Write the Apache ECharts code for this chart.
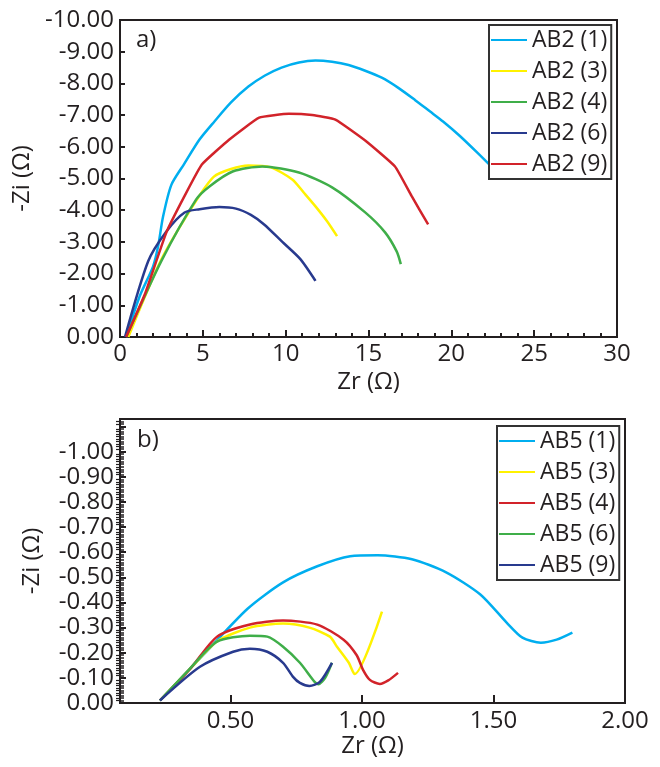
<!DOCTYPE html>
<html><head><meta charset="utf-8">
<script src="https://cdn.jsdelivr.net/npm/echarts@6/dist/echarts.min.js"></script>
<style>html,body{margin:0;padding:0;background:#fff}#c{width:660px;height:767px}</style>
</head><body><div id="c"></div><script>
// ---- Data (panel a: AB2) ----
const namesA = ['AB2 (1)', 'AB2 (3)', 'AB2 (4)', 'AB2 (6)', 'AB2 (9)'];
const ab2_1 = [[0.37,0],[1.2,1.3],[2.0,2.23],[2.3,2.86],[2.6,3.8],[3.1,4.8],[3.85,5.44],[4.8,6.23],[5.7,6.8],[6.7,7.4],[7.75,7.9],[8.75,8.25],[9.75,8.5],[10.8,8.66],[11.8,8.72],[12.8,8.68],[13.8,8.58],[14.8,8.4],[15.8,8.18],[16.8,7.86],[17.8,7.48],[18.7,7.12],[19.5,6.8],[20.5,6.35],[21.6,5.8],[22.6,5.28]];
const ab2_3 = [[0.5,0],[2.5,2.45],[4.6,4.3],[5.67,5.06],[6.7,5.3],[7.75,5.41],[9.1,5.35],[10.4,4.97],[11.1,4.55],[11.8,4.12],[12.5,3.65],[13.1,3.18]];
const ab2_4 = [[0.37,0],[2.5,2.4],[4.6,4.34],[5.4,4.75],[6.8,5.22],[8.6,5.38],[10.8,5.19],[12.8,4.72],[14.8,3.93],[16.0,3.3],[16.7,2.7],[16.95,2.3]];
const ab2_6 = [[0.3,0],[1.7,2.39],[2.8,3.33],[3.9,3.93],[4.8,4.03],[6.0,4.1],[7.0,4.05],[7.9,3.85],[8.7,3.55],[9.8,3.0],[10.9,2.45],[11.8,1.77]];
const ab2_9 = [[0.37,0],[1.5,1.35],[2.8,3.3],[3.9,4.45],[4.94,5.44],[6.6,6.23],[8.4,6.92],[10.2,7.04],[11.6,7.0],[13.0,6.86],[14.8,6.2],[16.6,5.38],[17.6,4.45],[18.6,3.55]];
// ---- Data (panel b: AB5) ----
const namesB = ['AB5 (1)', 'AB5 (3)', 'AB5 (4)', 'AB5 (6)', 'AB5 (9)'];
const ab5_1 = [[0.232,0.01],[0.40,0.195],[0.565,0.375],[0.70,0.48],[0.83,0.544],[0.955,0.584],[1.06,0.588],[1.19,0.572],[1.32,0.52],[1.45,0.432],[1.55,0.32],[1.61,0.26],[1.68,0.24],[1.74,0.252],[1.80,0.28]];
const ab5_3 = [[0.232,0.01],[0.35,0.14],[0.449,0.245],[0.574,0.30],[0.70,0.316],[0.80,0.30],[0.878,0.264],[0.905,0.224],[0.95,0.16],[0.972,0.115],[1.076,0.364]];
const ab5_4 = [[0.232,0.01],[0.35,0.14],[0.449,0.264],[0.574,0.312],[0.70,0.328],[0.83,0.312],[0.93,0.252],[0.98,0.19],[1.004,0.132],[1.03,0.092],[1.068,0.076],[1.10,0.09],[1.137,0.12]];
const ab5_6 = [[0.232,0.01],[0.34,0.13],[0.449,0.244],[0.574,0.268],[0.64,0.264],[0.70,0.224],[0.764,0.16],[0.82,0.084],[0.835,0.075],[0.86,0.1],[0.886,0.16]];
const ab5_9 = [[0.232,0.01],[0.384,0.144],[0.51,0.204],[0.574,0.216],[0.64,0.204],[0.70,0.16],[0.738,0.104],[0.764,0.08],[0.80,0.068],[0.84,0.084],[0.886,0.16]];
// ---- Tick labels ----
const xTicksA = [0, 5, 10, 15, 20, 25, 30];
const yTicksA = [0, 1, 2, 3, 4, 5, 6, 7, 8, 9, 10];
const xTicksB = [0.5, 1.0, 1.5, 2.0];
const yTicksB = [0, 0.1, 0.2, 0.3, 0.4, 0.5, 0.6, 0.7, 0.8, 0.9, 1.0];

const colA = ['#00aeef', '#fff200', '#3fae49', '#283a8e', '#d2232a'];
const colB = ['#00aeef', '#fff200', '#d2232a', '#3fae49', '#283a8e'];
const dataA = [ab2_1, ab2_3, ab2_4, ab2_6, ab2_9];
const dataB = [ab5_1, ab5_3, ab5_4, ab5_6, ab5_9];

const FONT = 'Open Sans';
const TXT = '#231f20';
const negFmt = v => (Math.abs(v) < 1e-9 ? '0.00' : '-' + v.toFixed(2));
const axLine = { show: true, lineStyle: { color: TXT, width: 2 } };

const series = [];
dataA.forEach((d, i) => series.push({
  name: namesA[i], type: 'line', xAxisIndex: 0, yAxisIndex: 0, data: d,
  symbol: 'none', smooth: i === 4 ? 0.12 : 0.25,
  lineStyle: { color: colA[i], width: 2.5 }, itemStyle: { color: colA[i] }
}));
dataB.forEach((d, i) => series.push({
  name: namesB[i], type: 'line', xAxisIndex: 1, yAxisIndex: 1, data: d,
  symbol: 'none', smooth: 0.25,
  lineStyle: { color: colB[i], width: 2.5 }, itemStyle: { color: colB[i] }
}));

const legendBase = {
  orient: 'vertical', itemWidth: 36, itemHeight: 14, itemGap: 3,
  padding: [1, 4, 1, 2], borderColor: '#333', borderWidth: 2, backgroundColor: '#fff',
  textStyle: { fontFamily: FONT, fontSize: 23, color: TXT, lineHeight: 28, padding: [0, 0, 0, 0] },
  icon: 'path://M0,6L36,6L36,8L0,8Z', itemStyle: { borderWidth: 0 }
};

const option = {
  animation: false,
  textStyle: { fontFamily: FONT },
  grid: [
    { left: 120, top: 20, width: 497, height: 317, show: true, borderColor: TXT, borderWidth: 2, backgroundColor: 'transparent' },
    { left: 120, top: 419, width: 505, height: 284, show: true, borderColor: TXT, borderWidth: 2, backgroundColor: 'transparent' }
  ],
  xAxis: [
    { type: 'value', gridIndex: 0, min: 0, max: 30, interval: 5,
      axisLine: axLine, splitLine: { show: false },
      axisTick: { show: true, inside: true, length: 7, lineStyle: { color: TXT, width: 2 } },
      minorTick: { show: true, splitNumber: 5, length: 4, lineStyle: { color: TXT, width: 2 } },
      axisLabel: { fontFamily: FONT, fontSize: 24, color: TXT, margin: 5, customValues: xTicksA, formatter: v => String(v) },
      name: 'Zr (Ω)', nameLocation: 'middle', nameGap: 33, nameTextStyle: { fontFamily: FONT, fontSize: 24, color: TXT } },
    { type: 'value', gridIndex: 1, min: 0.08, max: 2.0,
      axisLine: axLine, splitLine: { show: false },
      axisTick: { show: true, inside: true, length: 8, customValues: xTicksB, lineStyle: { color: TXT, width: 2 } },
      axisLabel: { fontFamily: FONT, fontSize: 24, color: TXT, margin: 6, customValues: xTicksB, formatter: v => v.toFixed(2) },
      name: 'Zr (Ω)', nameLocation: 'middle', nameGap: 31, nameTextStyle: { fontFamily: FONT, fontSize: 24, color: TXT } }
  ],
  yAxis: [
    { type: 'value', gridIndex: 0, min: 0, max: 10, interval: 1,
      axisLine: axLine, splitLine: { show: false },
      axisTick: { show: true, inside: true, length: 5, lineStyle: { color: TXT, width: 2 } },
      axisLabel: { fontFamily: FONT, fontSize: 24, color: TXT, margin: 6, customValues: yTicksA, formatter: negFmt },
      name: '-Zi (Ω)', nameLocation: 'middle', nameGap: 76, nameRotate: 90, nameTextStyle: { fontFamily: FONT, fontSize: 24, color: TXT } },
    { type: 'value', gridIndex: 1, min: 0, max: 1.13, interval: 0.1,
      axisLine: axLine, splitLine: { show: false },
      axisTick: { show: true, inside: true, length: 6, lineStyle: { color: TXT, width: 2 } },
      minorTick: { show: true, splitNumber: 10, length: 4, lineStyle: { color: TXT, width: 1.5 } },
      axisLabel: { fontFamily: FONT, fontSize: 24, color: TXT, margin: 6, customValues: yTicksB, formatter: negFmt },
      name: '-Zi (Ω)', nameLocation: 'middle', nameGap: 76, nameRotate: 90, nameTextStyle: { fontFamily: FONT, fontSize: 24, color: TXT } },
    { type: 'value', gridIndex: 1, position: 'left', min: 0, max: 1.13, interval: 0.1,
      axisLine: { show: false }, splitLine: { show: false }, axisLabel: { show: false },
      axisTick: { show: false },
      minorTick: { show: true, splitNumber: 10, length: 4, lineStyle: { color: TXT, width: 1.2 } } }
  ],
  legend: [
    Object.assign({}, legendBase, { left: 489, top: 25, data: namesA }),
    Object.assign({}, legendBase, { left: 497, top: 426, data: namesB })
  ],
  graphic: [
    { type: 'text', left: 136, top: 28, style: { text: 'a)', fontFamily: FONT, fontSize: 24, fill: TXT } },
    { type: 'text', left: 137, top: 428, style: { text: 'b)', fontFamily: FONT, fontSize: 24, fill: TXT } }
  ],
  series: series
};
const chart = echarts.init(document.getElementById('c'), null, { renderer: 'canvas' });
chart.setOption(option);
</script></body></html>
